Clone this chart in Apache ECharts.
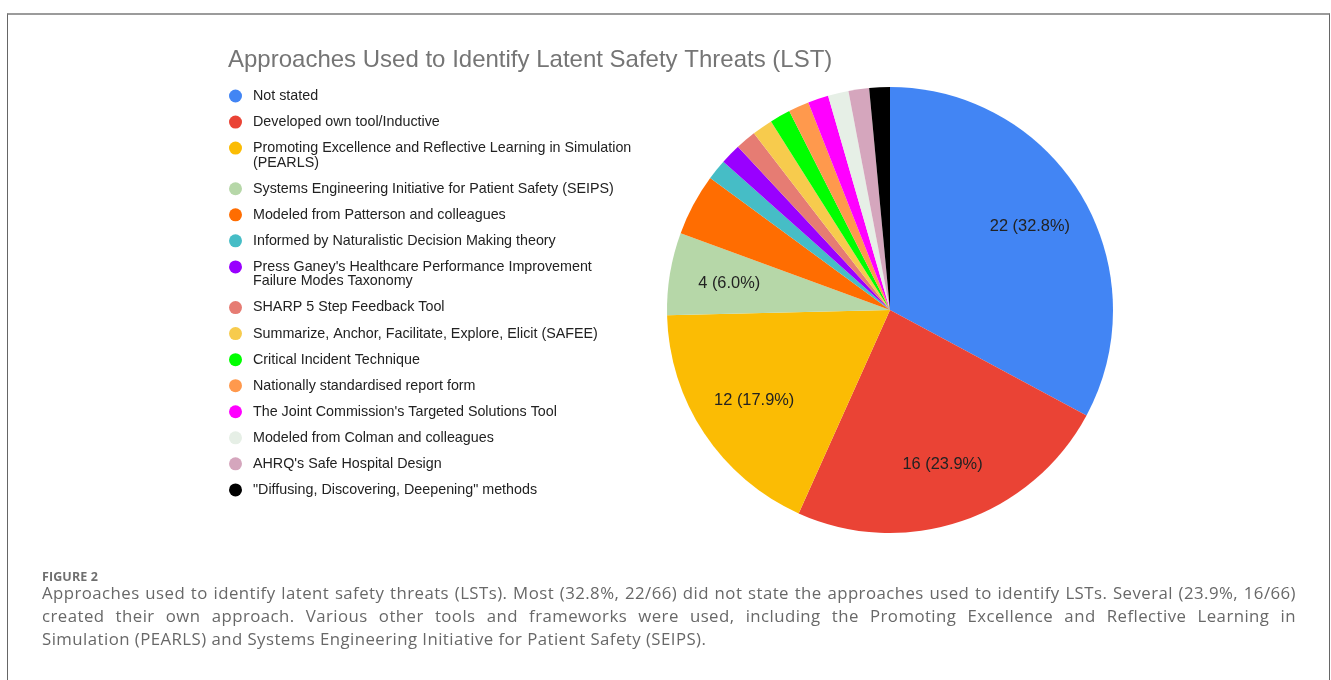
<!DOCTYPE html>
<html>
<head>
<meta charset="utf-8">
<script src="https://cdn.jsdelivr.net/npm/echarts@6/dist/echarts.min.js"></script>
<style>
  html, body { margin: 0; padding: 0; background: #fff; overflow: hidden; }
  #wrap { position: relative; width: 1331px; height: 680px; overflow: hidden; }
  #chart { position: absolute; left: 0; top: 0; width: 1331px; height: 680px; }
  #frame { position: absolute; left: 7px; top: 13px; width: 1321px; height: 720px;
           border-top: 2px solid #9b9b9b; border-left: 1px solid #666; border-right: 1px solid #666;
           pointer-events: none; }
  #figlabel { position: absolute; left: 42px; top: 569px; font-family: "Open Sans", Lato, sans-serif;
              font-weight: 700; font-size: 12.5px; line-height: 16px; color: #6f6f6f; letter-spacing: 0.1px; }
  #caption { position: absolute; left: 42px; top: 581px; width: 1254px;
             font-family: "Open Sans", Lato, sans-serif; font-size: 16.8px; line-height: 23px; color: #686868;
             letter-spacing: 0.45px; }
  #caption div { white-space: nowrap; text-align: justify; text-align-last: justify; }
  #caption div.last { text-align-last: left; }
</style>
</head>
<body>
<div id="wrap">
  <div id="chart"></div>
  <div id="frame"></div>
  <div id="figlabel"></div>
  <div id="caption"></div>
</div>
<script>
// ---- data ----
const chartTitle = 'Approaches Used to Identify Latent Safety Threats (LST)';
const categories = [
  'Not stated',
  'Developed own tool/Inductive',
  'Promoting Excellence and Reflective Learning in Simulation (PEARLS)',
  'Systems Engineering Initiative for Patient Safety (SEIPS)',
  'Modeled from Patterson and colleagues',
  'Informed by Naturalistic Decision Making theory',
  "Press Ganey's Healthcare Performance Improvement Failure Modes Taxonomy",
  'SHARP 5 Step Feedback Tool',
  'Summarize, Anchor, Facilitate, Explore, Elicit (SAFEE)',
  'Critical Incident Technique',
  'Nationally standardised report form',
  "The Joint Commission's Targeted Solutions Tool",
  'Modeled from Colman and colleagues',
  "AHRQ's Safe Hospital Design",
  '"Diffusing, Discovering, Deepening" methods'
];
const counts = [22, 16, 12, 4, 3, 1, 1, 1, 1, 1, 1, 1, 1, 1, 1];
const colors = ['#4285F4', '#EA4335', '#FBBC04', '#B6D7A8', '#FF6D01', '#46BDC6', '#9900FF',
                '#E67C73', '#F7CB4D', '#00FF00', '#FF994D', '#FF00FF', '#E6EFE6', '#D5A6BD', '#000000'];
const legendLines = {
  'Promoting Excellence and Reflective Learning in Simulation (PEARLS)':
    ['Promoting Excellence and Reflective Learning in Simulation', '(PEARLS)'],
  "Press Ganey's Healthcare Performance Improvement Failure Modes Taxonomy":
    ["Press Ganey's Healthcare Performance Improvement", 'Failure Modes Taxonomy']
};
const figureLabel = 'FIGURE 2';
const captionLines = [
  'Approaches used to identify latent safety threats (LSTs). Most (32.8%, 22/66) did not state the approaches used to identify LSTs. Several (23.9%, 16/66)',
  'created their own approach. Various other tools and frameworks were used, including the Promoting Excellence and Reflective Learning in',
  'Simulation (PEARLS) and Systems Engineering Initiative for Patient Safety (SEIPS).'
];

// ---- caption (HTML text) ----
document.getElementById('figlabel').textContent = figureLabel;
const capEl = document.getElementById('caption');
captionLines.forEach((t, i) => {
  const d = document.createElement('div');
  d.textContent = t;
  if (i === captionLines.length - 1) d.className = 'last';
  capEl.appendChild(d);
});

// ---- chart ----
const FONT = '"Liberation Sans", Arial, Helvetica, sans-serif';
const LEG_LH = 14.6;
const pieData = categories.map((n, i) => ({ name: n, value: counts[i], itemStyle: { color: colors[i] } }));
const legendData = categories.map(n => legendLines[n]
  ? { name: n, textStyle: { padding: [LEG_LH, 0, 0, 0] } }
  : { name: n });

const chart = echarts.init(document.getElementById('chart'), null, { renderer: 'canvas' });
chart.setOption({
  backgroundColor: '#ffffff',
  animation: false,
  title: {
    text: chartTitle,
    left: 228, top: 48, padding: 0,
    textStyle: { fontFamily: FONT, fontSize: 24, fontWeight: 'normal', color: '#757575' }
  },
  legend: {
    orient: 'vertical',
    left: 229, top: 89, padding: 0,
    itemWidth: 25, itemHeight: 13, itemGap: 12.05,
    icon: 'circle',
    data: legendData,
    formatter: function (name) {
      const lines = legendLines[name] || [name];
      return lines.map(l => '{t|' + l + '}').join('\n');
    },
    textStyle: {
      fontFamily: FONT, fontSize: 14.3, color: '#222222',
      rich: { t: { fontFamily: FONT, fontSize: 14.3, lineHeight: LEG_LH, color: '#222222' } }
    }
  },
  series: [
    {
      name: 'Approaches',
      type: 'pie',
      center: [890, 310],
      radius: [0, 223],
      startAngle: 90,
      clockwise: true,
      avoidLabelOverlap: false,
      label: { show: false },
      labelLine: { show: false },
      itemStyle: { borderWidth: 0 },
      emphasis: { scale: false },
      data: pieData
    },
    {
      name: 'labels',
      type: 'pie',
      center: [890, 310],
      radius: [97, 223],
      startAngle: 90,
      clockwise: true,
      silent: true,
      legendHoverLink: false,
      avoidLabelOverlap: false,
      itemStyle: { color: 'rgba(0,0,0,0)', borderWidth: 0 },
      label: {
        show: true,
        position: 'inside',
        fontFamily: FONT, fontSize: 16.4, color: '#222222',
        formatter: function (p) { return p.percent >= 5 ? p.value + ' (' + p.percent.toFixed(1) + '%)' : ''; }
      },
      labelLine: { show: false },
      emphasis: { disabled: true },
      data: categories.map((n, i) => ({ name: n, value: counts[i] }))
    }
  ]
});
</script>
</body>
</html>
